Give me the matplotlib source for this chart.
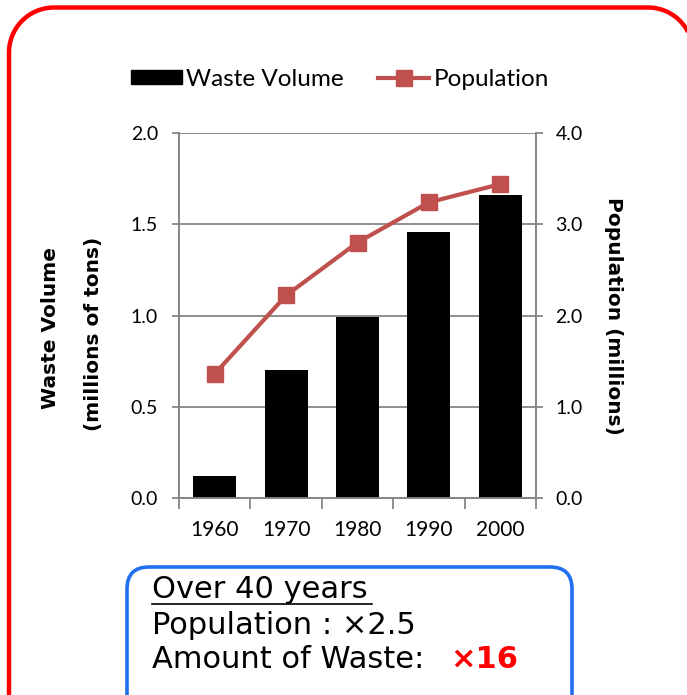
import numpy as np
import matplotlib
matplotlib.use("Agg")
import matplotlib.pyplot as plt
from matplotlib.patches import FancyBboxPatch, Rectangle
from matplotlib.lines import Line2D

# data
years = ["1960", "1970", "1980", "1990", "2000"]
waste = [0.12, 0.70, 0.99, 1.46, 1.66]        # millions of tons
population = [1.36, 2.22, 2.80, 3.24, 3.44]   # millions
left_ticks = [0.0, 0.5, 1.0, 1.5, 2.0]
right_ticks = [0.0, 1.0, 2.0, 3.0, 4.0]

W, H = 687, 695
fig = plt.figure(figsize=(W / 100, H / 100), dpi=100)

tick_font = "Lato"
gray = "#868686"
red_line = "#C0504D"

ax = fig.add_axes([179 / W, 1 - 498 / H, 357 / W, 365 / H])
x = np.arange(len(years))
ax.bar(x, waste, width=0.6, color="black", zorder=3)
ax.set_xlim(-0.5, len(years) - 0.5)
ax.set_ylim(0, 2.0)
ax.set_yticks(left_ticks)
ax.set_yticklabels(["%.1f" % v for v in left_ticks], fontsize=14, family=tick_font)
ax.yaxis.grid(True, color=gray, lw=1.3, zorder=0)
ax.set_xticks(x)
ax.set_xticklabels(years, fontsize=15, family=tick_font)
ax.set_xticks(np.arange(-0.5, len(years)), minor=True)
ax.tick_params(axis="x", which="major", length=0, pad=16)
ax.tick_params(axis="x", which="minor", length=8, width=1.3, color=gray)
ax.tick_params(axis="y", length=5, width=1.3, color=gray, pad=10)
ax.spines["top"].set_visible(False)
for s in ["left", "bottom", "right"]:
    ax.spines[s].set_color(gray)
    ax.spines[s].set_linewidth(1.3)

ax2 = ax.twinx()
ax2.plot(x, population, color=red_line, lw=3, marker="s", markersize=11, zorder=4)
ax2.set_ylim(0, 4.0)
ax2.set_yticks(right_ticks)
ax2.set_yticklabels(["%.1f" % v for v in right_ticks], fontsize=14, family=tick_font)
ax2.tick_params(axis="y", length=5, width=1.3, color=gray, pad=9)
ax2.spines["top"].set_visible(False)
for s in ["left", "bottom", "right"]:
    ax2.spines[s].set_color(gray)
    ax2.spines[s].set_linewidth(1.3)

# axis titles
fig.text(51 / W, 1 - 328 / H, "Waste Volume", rotation=90, ha="center", va="center",
         fontsize=14.5, fontweight="bold", family="DejaVu Sans")
fig.text(93 / W, 1 - 334 / H, "(millions of tons)", rotation=90, ha="center", va="center",
         fontsize=14.5, fontweight="bold", family="DejaVu Sans")
fig.text(613 / W, 1 - 316 / H, "Population (millions)", rotation=-90, ha="center", va="center",
         fontsize=14.5, fontweight="bold", family="DejaVu Sans")

# legend
handles = [Rectangle((0, 0), 1, 1, color="black"),
           Line2D([], [], color=red_line, lw=3, marker="s", markersize=11)]
fig.legend(handles, ["Waste Volume", "Population"], loc="center",
           bbox_to_anchor=(340 / W, 1 - 79 / H), ncol=2, frameon=False,
           prop={"family": tick_font, "size": 17.5}, handlelength=2.1, handleheight=0.55,
           handletextpad=0.2, columnspacing=1.4)

# overlay in pixel coordinates for the frames and the note
ov = fig.add_axes([0, 0, 1, 1], facecolor="none")
ov.set_xlim(0, W)
ov.set_ylim(H, 0)
ov.axis("off")

# red outer frame, bottom and right side run off the picture
r = 45
left, top, right = 9, 7.5, 693
t1 = np.linspace(np.pi, 1.5 * np.pi, 30)
t2 = np.linspace(1.5 * np.pi, 2 * np.pi, 30)
fx = np.concatenate([[left], left + r + r * np.cos(t1), right - r + r * np.cos(t2), [right]])
fy = np.concatenate([[H + 20], top + r + r * np.sin(t1), top + r + r * np.sin(t2), [H + 20]])
ov.plot(fx, fy, color="red", lw=3.2, solid_capstyle="butt")

ov.add_patch(FancyBboxPatch((127, 567), 445, 180,
                            boxstyle="round,pad=0,rounding_size=22",
                            fill=False, edgecolor="#1F6FF0", lw=2.6))

note_font = "DejaVu Sans"
ov.text(152, 590, "Over 40 years", ha="left", va="center", fontsize=22, family=note_font)
ov.plot([152, 372], [604, 604], color="black", lw=1.2)
ov.text(152, 626, "Population : \u00d72.5", ha="left", va="center",
        fontsize=22, family=note_font)
ov.text(152, 660, "Amount of Waste:", ha="left", va="center",
        fontsize=22, family=note_font)
ov.text(450, 660, "\u00d716", ha="left", va="center",
        fontsize=22, fontweight="bold", color="red", family=note_font)

fig.savefig("out.png", dpi=100)
